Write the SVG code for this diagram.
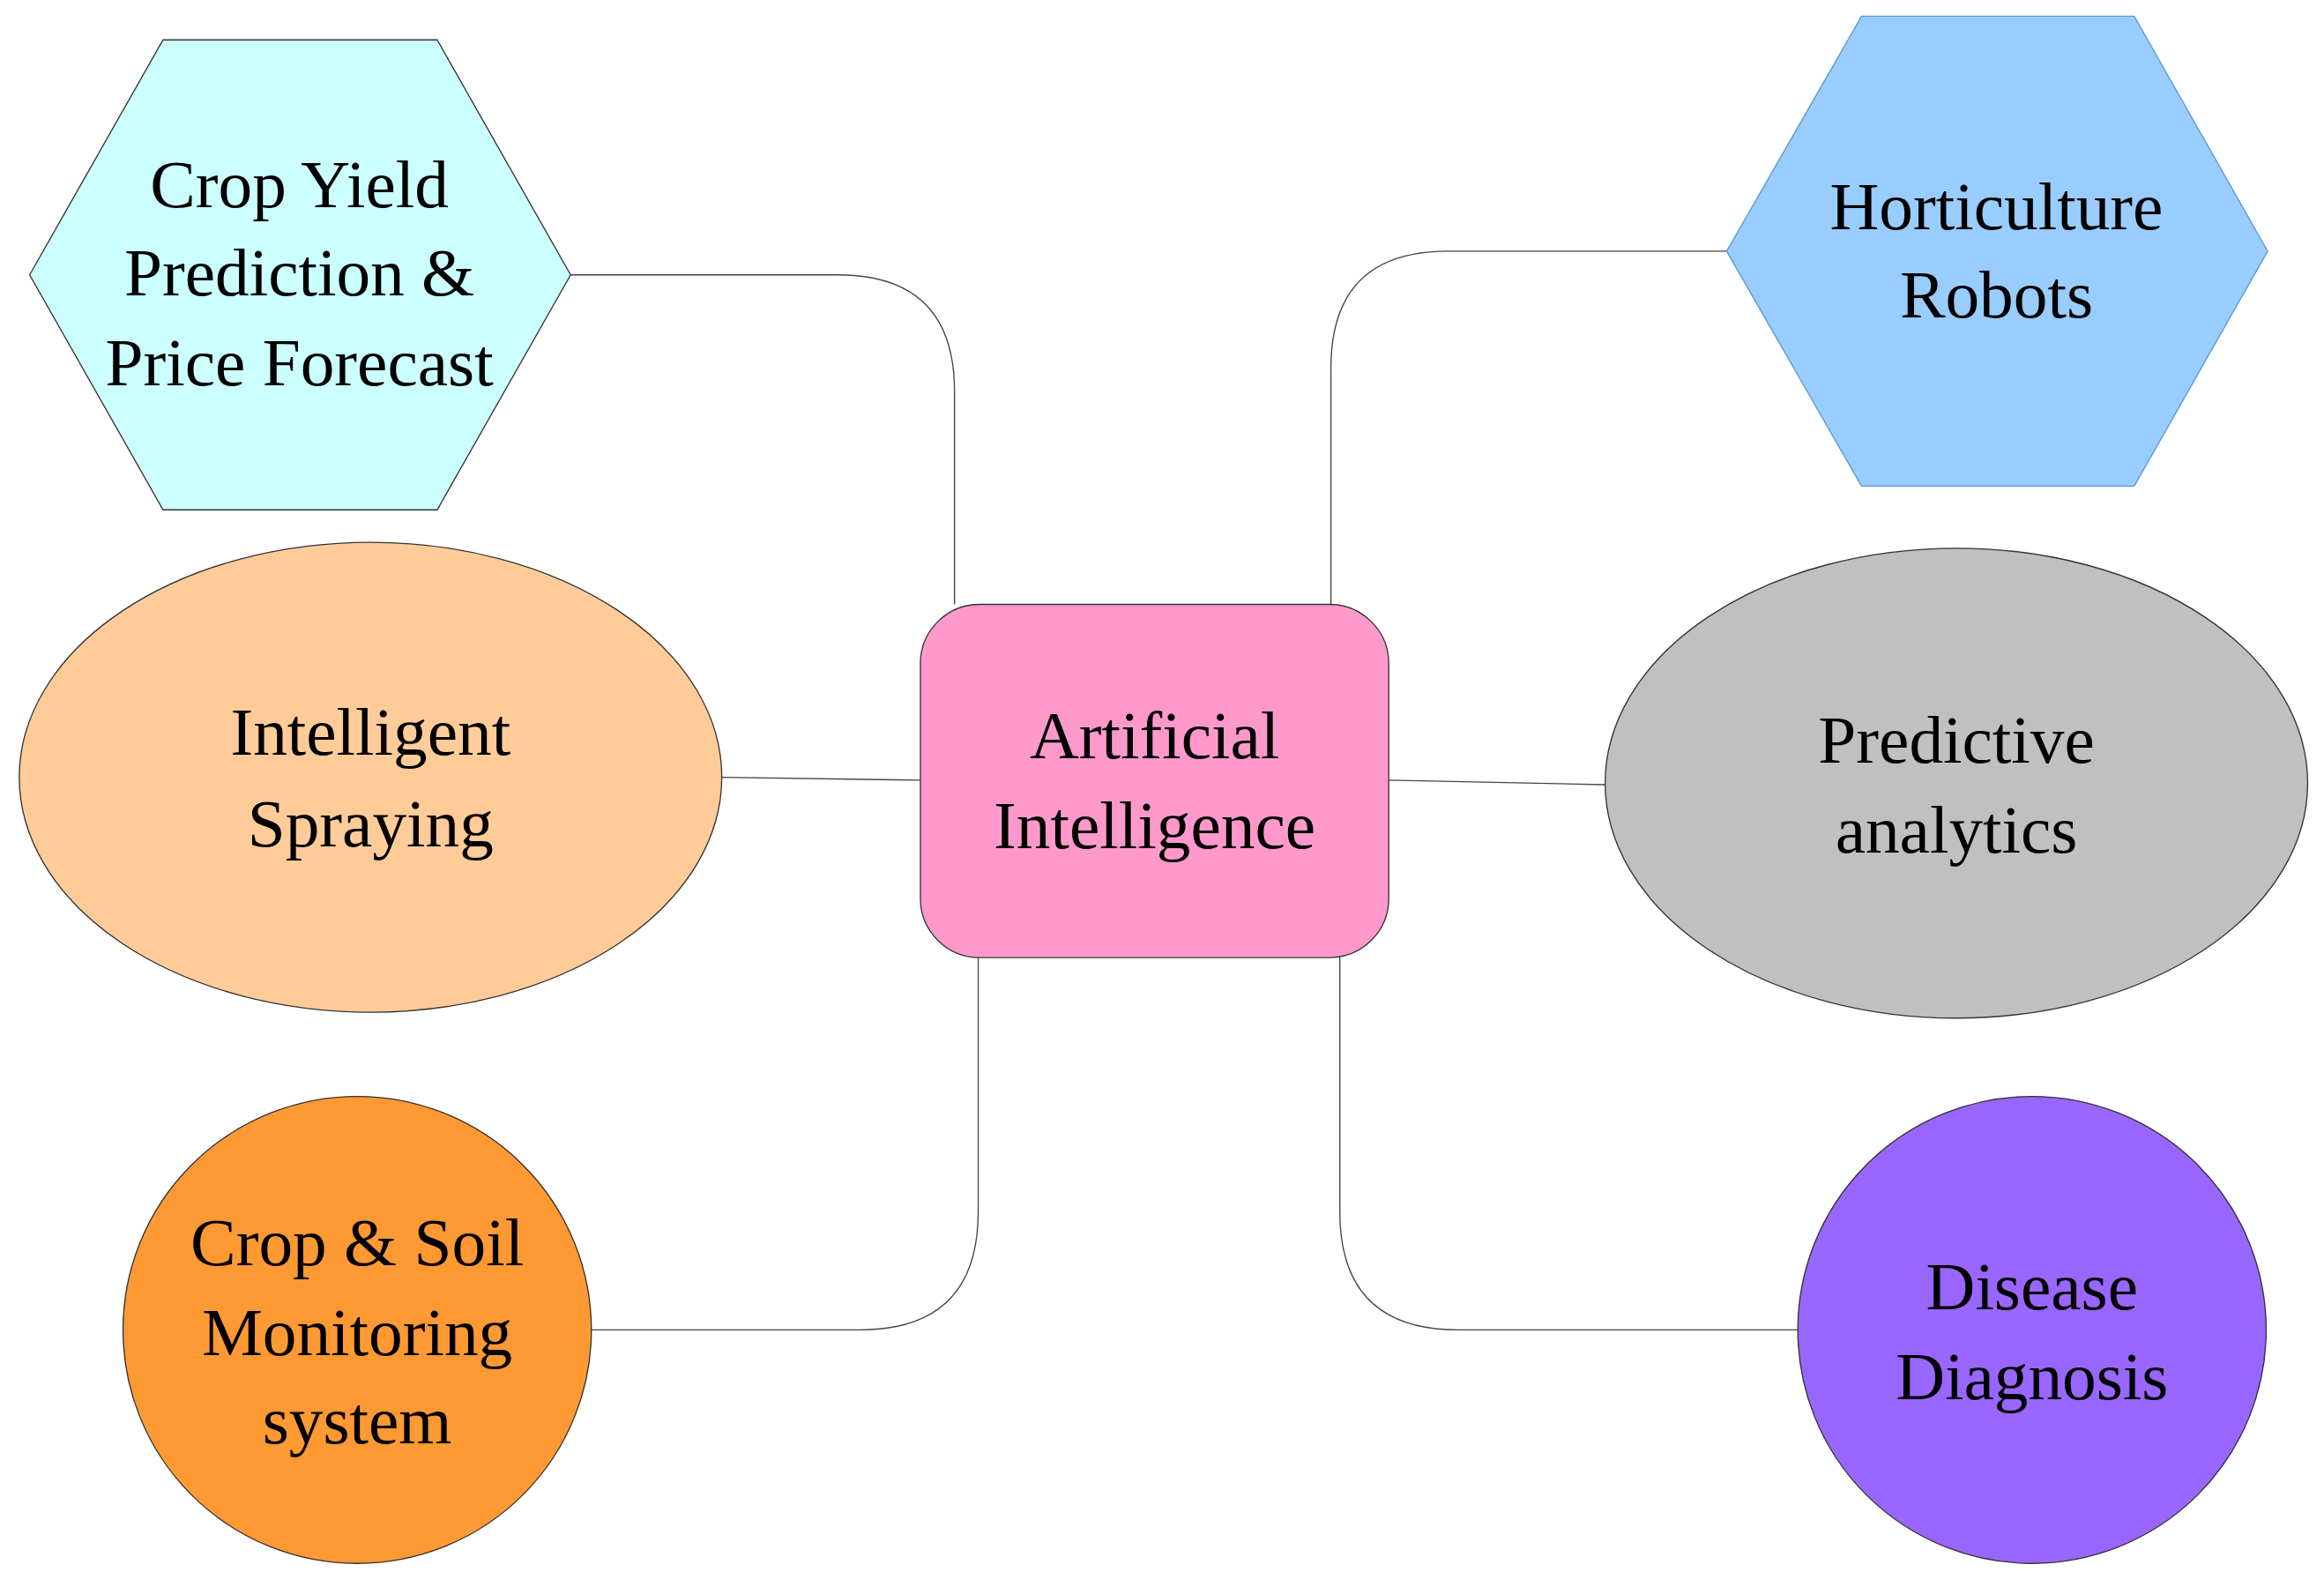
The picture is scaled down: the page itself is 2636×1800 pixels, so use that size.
<svg xmlns="http://www.w3.org/2000/svg" width="2636" height="1800" viewBox="0 0 2636 1800">
<style>
text{font-family:"Liberation Serif","Times New Roman",serif;font-size:46px;text-anchor:middle;fill:#000}
.n{stroke:#333;stroke-width:0.8}
.c{fill:none;stroke:#444;stroke-width:0.8}
</style>
<rect width="2636" height="1800" fill="#fff"/>
<g transform="scale(1.6811,1.676)">
<g id="connectors">
<path class="c" d="M385,186 H565 Q644,186 644,265 V409"/>
<path class="c" d="M1165,170 H977 Q898,170 898,249 V409"/>
<path class="c" d="M487,526 L621,528"/>
<path class="c" d="M937,528 L1083,531"/>
<path class="c" d="M399,900 H580 Q660,900 660,820 V648"/>
<path class="c" d="M1213,900 H984 Q904,900 904,820 V648"/>
</g>
<g id="cropyield"><polygon class="n" fill="#CCFFFF" points="20,186 110,27 295,27 385,186 295,345 110,345"/>
<text x="202" y="140">Crop Yield</text><text x="202" y="200">Prediction &amp;</text><text x="202" y="261">Price Forecast</text></g>
<g id="horticulture"><polygon class="n" fill="#99CCFF" stroke="#5a9ad0" points="1165,170 1256,11 1440,11 1530,170 1440,329 1256,329" style="stroke:#5a9ad0"/>
<text x="1347" y="155">Horticulture</text><text x="1347" y="215">Robots</text></g>
<g id="spraying"><ellipse class="n" fill="#FFCC99" cx="250" cy="526" rx="237" ry="159"/>
<text x="250" y="511">Intelligent</text><text x="250" y="573">Spraying</text></g>
<g id="ai"><rect class="n" fill="#FF99CC" x="621" y="409" width="316" height="239" rx="40"/>
<text x="779" y="513">Artificial</text><text x="779" y="574">Intelligence</text></g>
<g id="predictive"><ellipse class="n" fill="#C0C0C0" cx="1320" cy="530" rx="237" ry="159"/>
<text x="1320" y="516">Predictive</text><text x="1320" y="577">analytics</text></g>
<g id="cropsoil"><circle class="n" fill="#FF9933" cx="241" cy="900" r="158"/>
<text x="241" y="856">Crop &amp; Soil</text><text x="241" y="917">Monitoring</text><text x="241" y="977">system</text></g>
<g id="disease"><circle class="n" fill="#9966FF" cx="1371" cy="900" r="158"/>
<text x="1371" y="886">Disease</text><text x="1371" y="947">Diagnosis</text></g>
</g>
</svg>
